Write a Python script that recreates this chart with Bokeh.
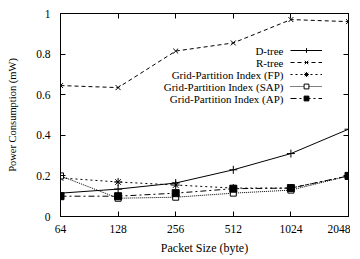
from bokeh.plotting import figure
from bokeh.models import (LogAxis, LinearAxis, FixedTicker, Legend, LegendItem,
                          Label, CustomJSTickFormatter, Range1d)
from bokeh.core.properties import value
from bokeh.embed import file_html
from bokeh.resources import INLINE

packet_sizes = [64, 128, 256, 512, 1024, 2048]
x_tick_labels = ["64", "128", "256", "512", "1024", "2048"]
y_ticks = [0, 0.2, 0.4, 0.6, 0.8, 1.0]
y_tick_labels = ["0", "0.2", "0.4", "0.6", "0.8", "1"]

dtree = [0.115, 0.135, 0.165, 0.23, 0.31, 0.43]
rtree = [0.645, 0.635, 0.815, 0.855, 0.97, 0.96]
grid_fp = [0.19, 0.17, 0.155, 0.14, 0.14, 0.2]
grid_sap = [0.2, 0.09, 0.095, 0.115, 0.13, 0.2]
grid_ap = [0.1, 0.1, 0.115, 0.137, 0.14, 0.2]

series_names = ["D-tree", "R-tree", "Grid-Partition Index (FP)",
                "Grid-Partition Index (SAP)", "Grid-Partition Index (AP)"]

FONT = "serif"

p = figure(width=350, height=257, x_axis_type="log",
           x_range=Range1d(64, 2048), y_range=Range1d(0, 1),
           output_backend="svg", toolbar_location=None,
           min_border_left=60, min_border_right=2, min_border_top=13,
           min_border_bottom=37)
p.grid.visible = False
p.outline_line_color = "black"
p.outline_line_width = 1
p.background_fill_color = "white"
p.border_fill_color = "white"


def style_axis(ax, ticks, labels=None):
    ax.ticker = FixedTicker(ticks=ticks)
    ax.axis_line_color = "black"
    ax.major_tick_line_color = "black"
    ax.major_tick_in = 5
    ax.major_tick_out = 0
    ax.minor_tick_line_color = None
    ax.major_label_text_font = FONT
    ax.major_label_text_font_size = "11.5px"
    ax.major_label_text_color = "black"
    ax.axis_label_text_font = FONT
    ax.axis_label_text_font_size = "12px"
    ax.axis_label_text_font_style = "normal"
    ax.axis_label_text_color = "black"
    if labels is not None:
        ax.major_label_overrides = {t: l for t, l in zip(ticks, labels)}
    else:
        ax.formatter = CustomJSTickFormatter(code="return ''")
        ax.major_label_standoff = 0


xa = p.xaxis[0]
style_axis(xa, packet_sizes, x_tick_labels)
xa.axis_label = "Packet Size (byte)"
xa.major_label_standoff = 8
xa.axis_label_standoff = 5

ya = p.yaxis[0]
style_axis(ya, y_ticks, y_tick_labels)
ya.axis_label = "Power Consumption (mW)"
ya.axis_label_text_font_size = "10.5px"
ya.major_label_standoff = 10
ya.axis_label_standoff = 15

top = LogAxis()
style_axis(top, packet_sizes)
p.add_layout(top, "above")
right = LinearAxis()
style_axis(right, y_ticks)
p.add_layout(right, "right")

styles = [
    dict(dash="solid", marker="cross", size=8, fill="black"),
    dict(dash="4 3", marker="x", size=7, fill="black"),
    dict(dash="2 3", marker="asterisk", size=8, fill="black"),
    dict(dash="1 1", marker="square", size=6, fill="white"),
    dict(dash="6 3 2 3", marker="square", size=7, fill="black"),
]
data = [dtree, rtree, grid_fp, grid_sap, grid_ap]

items = []
for name, ys, st in zip(series_names, data, styles):
    ln = p.line(packet_sizes, ys, line_color="black", line_width=1,
                line_dash=st["dash"])
    sc = p.scatter(packet_sizes, ys, marker=st["marker"], size=st["size"],
                   line_color="black", fill_color=st["fill"], line_width=1)
    items.append(LegendItem(label=value(""), renderers=[ln, sc]))

legend = Legend(items=items, location=(230, 112), glyph_width=32,
                glyph_height=12, label_width=0, label_height=0,
                label_standoff=0, padding=0, margin=0, spacing=0,
                border_line_color=None, background_fill_alpha=0,
                label_text_font_size="1px")
p.add_layout(legend, "center")

for i, name in enumerate(series_names):
    p.add_layout(Label(x=223, y=166 - 12 * i, x_units="screen", y_units="screen",
                       text=name, text_align="right", text_baseline="middle",
                       text_font=FONT, text_font_size="11px",
                       text_color="black"))

open("out.html", "w").write(file_html(p, INLINE))
